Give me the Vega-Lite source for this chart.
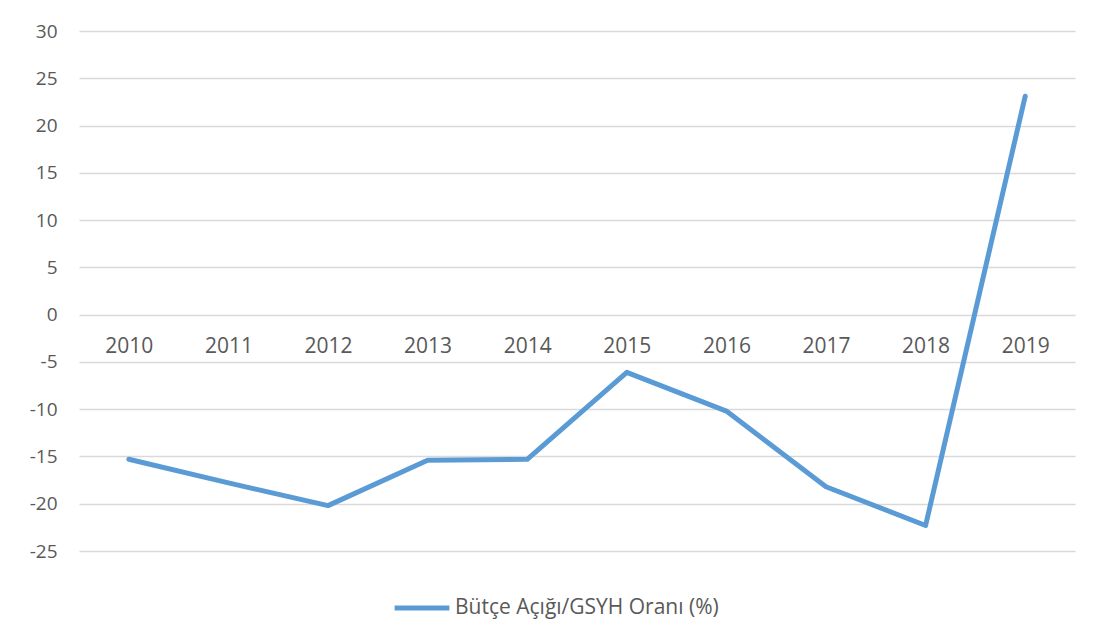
{
  "$schema": "https://vega.github.io/schema/vega-lite/v6.json",
  "autosize": {"type": "none"},
  "padding": {"left": 79, "top": 31, "right": 24, "bottom": 93},
  "width": 996,
  "height": 520,
  "background": "white",
  "config": {
    "view": {"stroke": null},
    "font": "Open Sans"
  },
  "data": {
    "values": [
      {"year": "2010", "series": "Bütçe Açığı/GSYH Oranı (%)", "value": -15.3},
      {"year": "2011", "series": "Bütçe Açığı/GSYH Oranı (%)", "value": -17.8},
      {"year": "2012", "series": "Bütçe Açığı/GSYH Oranı (%)", "value": -20.2},
      {"year": "2013", "series": "Bütçe Açığı/GSYH Oranı (%)", "value": -15.4},
      {"year": "2014", "series": "Bütçe Açığı/GSYH Oranı (%)", "value": -15.3},
      {"year": "2015", "series": "Bütçe Açığı/GSYH Oranı (%)", "value": -6.1},
      {"year": "2016", "series": "Bütçe Açığı/GSYH Oranı (%)", "value": -10.2},
      {"year": "2017", "series": "Bütçe Açığı/GSYH Oranı (%)", "value": -18.2},
      {"year": "2018", "series": "Bütçe Açığı/GSYH Oranı (%)", "value": -22.3},
      {"year": "2019", "series": "Bütçe Açığı/GSYH Oranı (%)", "value": 23.1}
    ]
  },
  "mark": {"type": "line", "strokeWidth": 5, "strokeCap": "round", "strokeJoin": "round"},
  "encoding": {
    "x": {
      "field": "year",
      "type": "ordinal",
      "scale": {"type": "point", "padding": 0.5},
      "axis": {
        "title": null,
        "labelAngle": 0,
        "ticks": false,
        "domain": false,
        "grid": false,
        "offset": -236,
        "labelPadding": 31,
        "labelBaseline": "middle",
        "labelFontSize": 21,
        "labelColor": "#595959",
        "labelFont": "Open Sans"
      }
    },
    "y": {
      "field": "value",
      "type": "quantitative",
      "scale": {"domain": [-25, 30], "nice": false, "zero": false},
      "axis": {
        "title": null,
        "values": [-25, -20, -15, -10, -5, 0, 5, 10, 15, 20, 25, 30],
        "labelExpr": "replace(datum.label, '−', '-')",
        "ticks": false,
        "domain": false,
        "grid": true,
        "gridColor": "#d9d9d9",
        "gridWidth": 1.3,
        "labelPadding": 22,
        "labelFontSize": 19,
        "labelColor": "#595959",
        "labelFont": "Open Sans"
      }
    },
    "color": {
      "field": "series",
      "type": "nominal",
      "scale": {"range": ["#5b9bd5"]},
      "legend": {
        "title": null,
        "orient": "none",
        "legendX": 313,
        "legendY": 547,
        "symbolType": "stroke",
        "symbolSize": 3000,
        "symbolStrokeWidth": 5,
        "labelFontSize": 21,
        "labelLimit": 500,
        "labelColor": "#595959",
        "labelFont": "Open Sans",
        "labelOffset": 3
      }
    }
  }
}
